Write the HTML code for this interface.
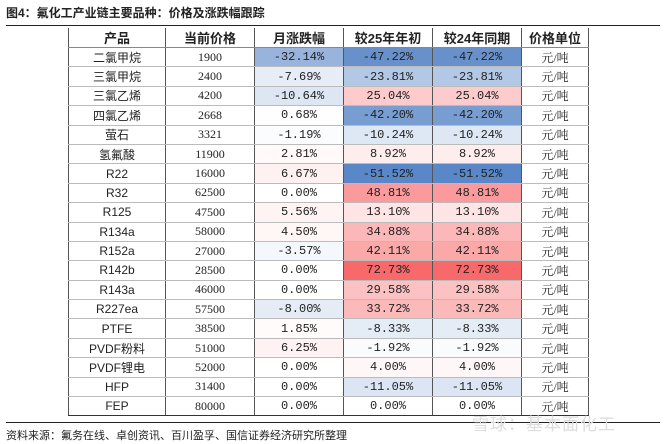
<!DOCTYPE html>
<html><head><meta charset="utf-8"><style>
body{margin:0;width:666px;height:444px;background:#fff;overflow:hidden;font-family:"Liberation Sans","Noto Sans CJK SC",sans-serif;position:relative}
#title{position:absolute;left:6px;top:4px;font-size:12px;font-weight:bold;color:#222}
#topline{position:absolute;left:6px;top:25px;width:654px;height:1px;background:#222}
#botline{position:absolute;left:6px;top:422px;width:654px;height:1px;background:#222}
#src{position:absolute;left:6px;top:427px;font-size:11px;color:#222}
#wm{position:absolute;left:472px;top:410px;font-size:17px;color:#ddd;letter-spacing:1px}
table{position:absolute;left:68px;top:28px;border-collapse:collapse;table-layout:fixed;font-family:"Liberation Serif","Noto Serif CJK SC",serif}
td,th{height:18.4px;padding:0;text-align:center;font-size:12px;color:#222;border-left:1px solid #555;border-right:1px solid #555;border-bottom:1px solid #bbb;white-space:nowrap}
th{font-family:"Liberation Sans","Noto Sans CJK SC",sans-serif;font-weight:bold;font-size:13px;border-bottom:1px solid #888}
td.n{font-family:"Liberation Sans","Noto Sans CJK SC",sans-serif}
td.p{font-family:"Liberation Mono",monospace;font-size:12px}
tr:last-child td{border-bottom:1.5px solid #333}
</style></head><body>
<div id="title">图4：氟化工产业链主要品种：价格及涨跌幅跟踪</div>
<div id="topline"></div>
<table id="t">
<colgroup><col style="width:97px"><col style="width:89px"><col style="width:89px"><col style="width:89px"><col style="width:89px"><col style="width:67px"></colgroup>
<tr><th>产品</th><th>当前价格</th><th>月涨跌幅</th><th>较25年年初</th><th>较24年同期</th><th>价格单位</th></tr>
</table>
<div id="botline"></div>
<div id="src">资料来源：氟务在线、卓创资讯、百川盈孚、国信证券经济研究所整理</div>
<div id="wm">雪球：基本面化工</div>
<script>
const products=["二氯甲烷","三氯甲烷","三氯乙烯","四氯乙烯","萤石","氢氟酸","R22","R32","R125","R134a","R152a","R142b","R143a","R227ea","PTFE","PVDF粉料","PVDF锂电","HFP","FEP"];
const prices=[1900,2400,4200,2668,3321,11900,16000,62500,47500,58000,27000,28500,46000,57500,38500,51000,52000,31400,80000];
const monthChg=[-32.14,-7.69,-10.64,0.68,-1.19,2.81,6.67,0,5.56,4.50,-3.57,0,0,-8.00,1.85,6.25,0,0,0];
const vs25=[-47.22,-23.81,25.04,-42.20,-10.24,8.92,-51.52,48.81,13.10,34.88,42.11,72.73,29.58,33.72,-8.33,-1.92,4.00,-11.05,0];
const vs24=[-47.22,-23.81,25.04,-42.20,-10.24,8.92,-51.52,48.81,13.10,34.88,42.11,72.73,29.58,33.72,-8.33,-1.92,4.00,-11.05,0];
const NEGMAX=-51.52, POSMAX=72.73;
function color(v){
  let c,t;
  if(v<0){t=Math.min(1,v/NEGMAX);c=[90,135,199];}
  else{t=Math.min(1,v/POSMAX);c=[248,105,107];}
  const m=i=>Math.round(255+(c[i]-255)*t);
  return `rgb(${m(0)},${m(1)},${m(2)})`;
}
const tb=document.getElementById('t');
products.forEach((p,i)=>{
  const tr=document.createElement('tr');
  
  
  const cells=[[p,'n'],[String(prices[i]),''],[monthChg[i],'p'],[vs25[i],'p'],[vs24[i],'p'],['元/吨','']];
  cells.forEach((c,j)=>{
    const td=document.createElement('td');
    
    
    if(c[1]==='p'){td.textContent=c[0].toFixed(2)+'%';td.style.background=color(c[0]);td.className='p';}
    else{td.textContent=c[0];if(c[1])td.className=c[1];}
    tr.appendChild(td);
  });
  tb.appendChild(tr);
});
</script>
</body></html>
